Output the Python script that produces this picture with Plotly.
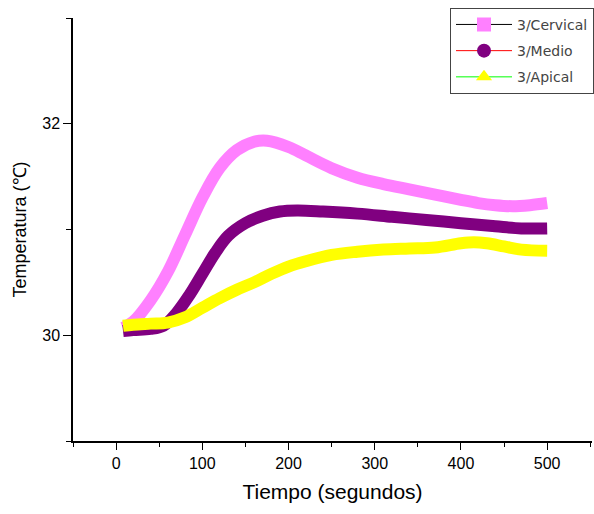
import plotly.graph_objects as go

# Temperature readings (°C) over time (s) at three tooth regions
t_cervical = [8, 20, 40, 60, 80, 100, 120, 140, 160, 175, 200, 220, 250, 280, 310, 340, 370, 400, 420, 440, 460, 480, 500]
T_cervical = [30.07, 30.13, 30.33, 30.60, 30.95, 31.30, 31.58, 31.75, 31.83, 31.84, 31.78, 31.70, 31.58, 31.49, 31.43, 31.38, 31.33, 31.28, 31.25, 31.23, 31.22, 31.23, 31.25]

t_medio = [8, 20, 40, 55, 70, 85, 100, 115, 130, 150, 170, 190, 210, 240, 280, 320, 360, 400, 440, 470, 500]
T_medio = [30.04, 30.05, 30.06, 30.09, 30.21, 30.38, 30.58, 30.78, 30.94, 31.06, 31.13, 31.17, 31.18, 31.17, 31.15, 31.12, 31.09, 31.06, 31.03, 31.01, 31.01]

t_apical = [8, 20, 40, 60, 80, 100, 120, 140, 160, 180, 200, 220, 250, 280, 310, 340, 370, 400, 415, 430, 450, 470, 500]
T_apical = [30.09, 30.10, 30.11, 30.12, 30.17, 30.26, 30.35, 30.43, 30.50, 30.58, 30.65, 30.70, 30.76, 30.79, 30.81, 30.82, 30.83, 30.87, 30.88, 30.87, 30.84, 30.81, 30.80]

series_names = ["3/Cervical", "3/Medio", "3/Apical"]
fill_colors = ["#FF80FF", "#800080", "#FFFF00"]
legend_line_colors = ["#000000", "#FF0000", "#00FF00"]
legend_symbols = ["square", "circle", "triangle-up"]

fig = go.Figure()

data = [(t_cervical, T_cervical), (t_medio, T_medio), (t_apical, T_apical)]
for (tx, ty), col in zip(data, fill_colors):
    fig.add_trace(go.Scatter(
        x=tx, y=ty, mode="lines",
        line=dict(color=col, width=12, shape="spline", smoothing=1.0),
        showlegend=False, hoverinfo="skip",
    ))

# Legend entries: thin connecting line with a marker
for name, lc, mc, sym in zip(series_names, legend_line_colors, fill_colors, legend_symbols):
    fig.add_trace(go.Scatter(
        x=[None], y=[None], mode="lines+markers", name=name, legendgroup=name,
        line=dict(color=lc, width=1),
        marker=dict(color=mc, symbol=sym, size=14, line=dict(width=0)),
    ))

axis_font = dict(family="Liberation Sans, Arial, sans-serif", size=16, color="#000000")

fig.update_layout(
    width=594, height=514,
    margin=dict(l=73, r=0, t=18, b=73),
    paper_bgcolor="white", plot_bgcolor="white",
    font=axis_font,
    xaxis=dict(
        range=[-50, 552], tick0=0, dtick=100,
        ticks="outside", ticklen=7, tickwidth=1, tickcolor="#000",
        minor=dict(dtick=50, tick0=0, ticks="outside", ticklen=4, tickwidth=1, tickcolor="#000"),
        showline=True, linecolor="#000", linewidth=1.5,
        showgrid=False, zeroline=False,
        title=dict(text="Tiempo (segundos)", font=dict(size=21), standoff=13),
        tickfont=axis_font,
    ),
    yaxis=dict(
        range=[29, 33], tick0=30, dtick=2,
        ticks="outside", ticklen=8, tickwidth=1, tickcolor="#000",
        minor=dict(dtick=1, tick0=29, ticks="outside", ticklen=5, tickwidth=1, tickcolor="#000"),
        showline=True, linecolor="#000", linewidth=1.5,
        showgrid=False, zeroline=False,
        title=dict(text="Temperatura (℃)", font=dict(size=18), standoff=11),
        tickfont=axis_font,
    ),
    legend=dict(
        x=0.727, y=1.024, xanchor="left", yanchor="top",
        bordercolor="#444444", borderwidth=1, bgcolor="white",
        font=dict(family="DejaVu Sans, sans-serif", size=14, color="#444444"),
        itemwidth=56, tracegroupgap=5,
    ),
)

fig.write_html("out.html")
